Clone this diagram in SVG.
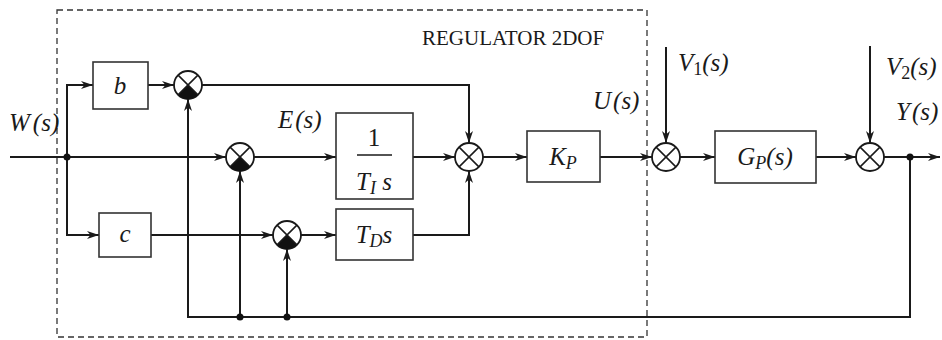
<svg xmlns="http://www.w3.org/2000/svg" width="942" height="340" viewBox="0 0 942 340">
<style>
.ln{fill:none;stroke:#1a1a1a;stroke-width:2}
.bx{fill:#fff;stroke:#333;stroke-width:1.6}
.sm{fill:#fff;stroke:#1a1a1a;stroke-width:1.8}
.x{stroke:#1a1a1a;stroke-width:1.5}
.fl{fill:#111}
.t{font-family:'Liberation Serif','Times New Roman',serif;font-style:italic;font-size:25px;fill:#1a1a1a}
.u{font-family:'Liberation Serif','Times New Roman',serif;font-size:25px;fill:#1a1a1a}
.sub{font-size:18px}
</style>
<defs>
<marker id="ar" viewBox="0 0 12 8" refX="12" refY="4" markerWidth="12" markerHeight="8" markerUnits="userSpaceOnUse" orient="auto">
<path d="M0,0 L12,4 L0,8 L3.5,4 z" fill="#1a1a1a"/>
</marker>
</defs>
<rect x="57" y="10" width="590" height="327" fill="none" stroke="#333" stroke-width="1.3" stroke-dasharray="6,4"/>
<text x="422" y="45" font-family="'Liberation Serif','Times New Roman',serif" font-size="21" fill="#1a1a1a">REGULATOR 2DOF</text>
<g id="connectors">
<path class="ln" d="M10,157 H226" marker-end="url(#ar)"/>
<path class="ln" d="M67,157 V85 H93" marker-end="url(#ar)"/>
<path class="ln" d="M67,157 V235 H99" marker-end="url(#ar)"/>
<path class="ln" d="M148,85 H174" marker-end="url(#ar)"/>
<path class="ln" d="M151,235 H273" marker-end="url(#ar)"/>
<path class="ln" d="M254,157 H336" marker-end="url(#ar)"/>
<path class="ln" d="M301,235 H336" marker-end="url(#ar)"/>
<path class="ln" d="M202,85 H469 V143" marker-end="url(#ar)"/>
<path class="ln" d="M413,157 H455" marker-end="url(#ar)"/>
<path class="ln" d="M413,235 H469 V171" marker-end="url(#ar)"/>
<path class="ln" d="M483,157 H527" marker-end="url(#ar)"/>
<path class="ln" d="M600,157 H652" marker-end="url(#ar)"/>
<path class="ln" d="M666,47 V143" marker-end="url(#ar)"/>
<path class="ln" d="M680,157 H715" marker-end="url(#ar)"/>
<path class="ln" d="M816,157 H856" marker-end="url(#ar)"/>
<path class="ln" d="M870,46 V143" marker-end="url(#ar)"/>
<path class="ln" d="M884,157 H940" marker-end="url(#ar)"/>
<path class="ln" d="M910,157 V317 H188 V99" marker-end="url(#ar)"/>
<path class="ln" d="M240,317 V171" marker-end="url(#ar)"/>
<path class="ln" d="M287,317 V249" marker-end="url(#ar)"/>
<circle class="fl" cx="67" cy="157" r="3.5"/>
<circle class="fl" cx="240" cy="317" r="3.5"/>
<circle class="fl" cx="287" cy="317" r="3.5"/>
<circle class="fl" cx="910" cy="157" r="3.5"/>
</g>
<g id="block-b"><rect class="bx" x="93" y="62" width="55" height="47"/><text class="t" x="120" y="94" text-anchor="middle">b</text></g>
<g id="block-c"><rect class="bx" x="99" y="213" width="52" height="44"/><text class="t" x="125" y="242" text-anchor="middle">c</text></g>
<g id="block-ti"><rect class="bx" x="336" y="113" width="77" height="86"/><text class="u" x="374" y="146" text-anchor="middle">1</text><line x1="357" y1="155" x2="392" y2="155" stroke="#1a1a1a" stroke-width="1.3"/><text class="t" x="374" y="190" text-anchor="middle">T<tspan class="sub" dy="4">I</tspan><tspan dy="-4"> s</tspan></text></g>
<g id="block-td"><rect class="bx" x="336" y="209" width="77" height="51"/><text class="t" x="374" y="243" text-anchor="middle">T<tspan class="sub" dy="4">D</tspan><tspan dy="-4">s</tspan></text></g>
<g id="block-kp"><rect class="bx" x="527" y="131" width="73" height="51"/><text class="t" x="563" y="165" text-anchor="middle">K<tspan class="sub" dy="4">P</tspan></text></g>
<g id="block-gp"><rect class="bx" x="715" y="131" width="101" height="52"/><text class="t" x="765" y="165" text-anchor="middle">G<tspan class="sub" dy="4">P</tspan><tspan dy="-4">(s)</tspan></text></g>
<g id="sum1"><circle class="sm" cx="188" cy="85" r="14"/><path class="fl" d="M188,85 L197.9,94.9 A14,14 0 0 1 178.1,94.9 Z"/><path class="x" d="M178.1,75.1 L197.9,94.9 M197.9,75.1 L178.1,94.9"/></g>
<g id="sum2"><circle class="sm" cx="240" cy="157" r="14"/><path class="fl" d="M240,157 L249.9,166.9 A14,14 0 0 1 230.1,166.9 Z"/><path class="x" d="M230.1,147.1 L249.9,166.9 M249.9,147.1 L230.1,166.9"/></g>
<g id="sum3"><circle class="sm" cx="287" cy="235" r="14"/><path class="fl" d="M287,235 L296.9,244.9 A14,14 0 0 1 277.1,244.9 Z"/><path class="x" d="M277.1,225.1 L296.9,244.9 M296.9,225.1 L277.1,244.9"/></g>
<g id="sum4"><circle class="sm" cx="469" cy="157" r="14"/><path class="x" d="M459.1,147.1 L478.9,166.9 M478.9,147.1 L459.1,166.9"/></g>
<g id="sum5"><circle class="sm" cx="666" cy="157" r="14"/><path class="x" d="M656.1,147.1 L675.9,166.9 M675.9,147.1 L656.1,166.9"/></g>
<g id="sum6"><circle class="sm" cx="870" cy="157" r="14"/><path class="x" d="M860.1,147.1 L879.9,166.9 M879.9,147.1 L860.1,166.9"/></g>
<g id="labels">
<text class="t" x="9" y="131">W<tspan dx="3">(s)</tspan></text>
<text class="t" x="278" y="128">E<tspan dx="2">(s)</tspan></text>
<text class="t" x="593" y="109">U<tspan dx="2">(s)</tspan></text>
<text class="t" x="678" y="71">V<tspan class="sub" font-style="normal" dy="4">1</tspan><tspan dy="-4">(s)</tspan></text>
<text class="t" x="886" y="75">V<tspan class="sub" font-style="normal" dy="4">2</tspan><tspan dy="-4">(s)</tspan></text>
<text class="t" x="896" y="120">Y<tspan dx="2">(s)</tspan></text>
</g>
</svg>
